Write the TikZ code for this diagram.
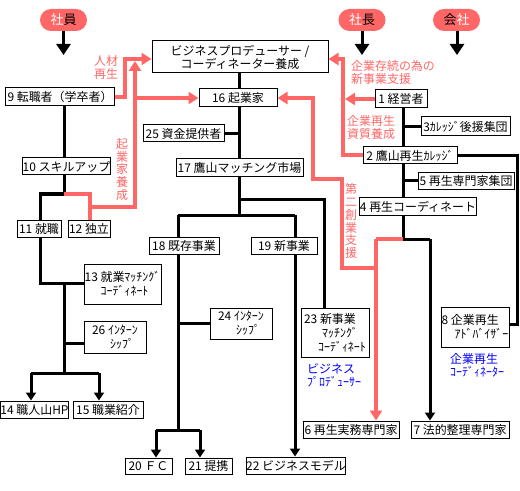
\documentclass[tikz,border=0pt]{standalone}
\usepackage{fontspec}
\setmainfont{Noto Sans CJK JP}
\usetikzlibrary{arrows.meta}
\definecolor{salmon}{RGB}{255,102,102}
\definecolor{bblue}{RGB}{0,0,255}
\pgfdeclarelayer{bg}
\pgfsetlayers{bg,main}
\tikzset{
  box/.style={draw, line width=1bp, fill=white, inner sep=0pt, font=\fontsize{12}{13}\selectfont, align=center},
  bl/.style={line width=3bp, black},
  rd/.style={line width=4bp, salmon},
  bah/.style={-{Triangle[length=8bp,width=10bp]}},
  rah/.style={-{Triangle[length=10bp,width=12bp]}},
  bigah/.style={-{Triangle[length=11bp,width=14bp]}},
  pill/.style={fill=salmon, rounded corners=11bp, minimum width=47bp, minimum height=22bp, inner sep=0pt, font=\fontsize{13}{13}\selectfont},
  lbl/.style={font=\fontsize{12}{13}\selectfont, inner sep=0pt},
}
\begin{document}
\begin{tikzpicture}[x=1bp,y=-1bp]
\useasboundingbox (0,0) rectangle (520,491);

% pills
\node[pill] (p1) at (63.5,20) {\textcolor{white}{社}員};
\node[pill] (p2) at (362,20) {\textcolor{white}{社}長};
\node[pill] (p3) at (456.5,20) {会\textcolor{white}{社}};
\coordinate (e1) at (63.5,55);
\coordinate (e2) at (362,55);
\coordinate (e3) at (457,55);
\draw[bl,bigah] (p1.south) -- (e1);
\draw[bl,bigah] (p2.south) -- (e2);
\draw[bl,bigah] (p3.south -| e3) -- (e3);

% boxes
\node[box, minimum width=176bp, minimum height=32bp] (biz) at (240,57) {ビジネスプロデューサー /\\コーディネーター養成};
\node[box, minimum width=108bp, minimum height=18bp] (n9) at (60,97) {9 転職者（学卒者）};
\node[box, minimum width=78bp, minimum height=18bp] (n16) at (238,98) {16 起業家};
\node[box, minimum width=81bp, minimum height=17bp] (n25) at (183.5,133.5) {25 資金提供者};
\node[box, minimum width=127bp, minimum height=18bp] (n17) at (239.5,168) {17 鷹山マッチング市場};
\node[box, minimum width=52bp, minimum height=18bp] (n1) at (401,99) {1 経営者};
\node[box, minimum width=89bp, minimum height=19bp] (n3) at (465.5,126.5) {3ｶﾚｯｼﾞ後援集団};
\node[box, minimum width=94bp, minimum height=17bp] (n2) at (410,155.5) {2 鷹山再生ｶﾚｯｼﾞ};
\node[box, minimum width=96bp, minimum height=17bp] (n5) at (466,181) {5 再生専門家集団};
\node[box, minimum width=110bp, minimum height=17bp] (n4) at (418,206.5) {4 再生コーディネート};
\node[box, minimum width=87bp, minimum height=17bp] (n10) at (66.5,166.5) {10 スキルアップ};
\node[box, minimum width=44bp, minimum height=17bp] (n11) at (39,228.5) {11 就職};
\node[box, minimum width=42bp, minimum height=17bp] (n12) at (89,228.5) {12 独立};
\node[box, minimum width=70bp, minimum height=17bp] (n18) at (184,245.5) {18 既存事業};
\node[box, minimum width=66bp, minimum height=17bp] (n19) at (284,245.5) {19 新事業};
\node[box, minimum width=77bp, minimum height=40bp, align=left, font=\fontsize{12}{14}\selectfont] (n13) at (122.5,284) {13 就業ﾏｯﾁﾝｸﾞ\\\hspace*{16bp}ｺｰﾃﾞｨﾈｰﾄ};
\node[box, minimum width=62bp, minimum height=31bp, align=left, font=\fontsize{12}{14}\selectfont] (n24) at (241,323.5) {24 ｲﾝﾀｰﾝ\\\hspace*{18bp}ｼｯﾌﾟ};
\node[box, minimum width=68bp, minimum height=49bp, align=left, font=\fontsize{12}{14}\selectfont] (n23) at (335,332.5) {23 新事業\\\hspace*{18bp}ﾏｯﾁﾝｸﾞ\\\hspace*{14bp}ｺｰﾃﾞｨﾈｰﾄ};
\node[box, minimum width=68bp, minimum height=40bp, align=left, font=\fontsize{12}{14}\selectfont] (n8) at (475,327) {8 企業再生\\\hspace*{13bp}ｱﾄﾞﾊﾞｲｻﾞｰ};
\node[box, minimum width=62bp, minimum height=32bp, align=left, font=\fontsize{12}{14}\selectfont] (n26) at (115,337) {26 ｲﾝﾀｰﾝ\\\hspace*{18bp}ｼｯﾌﾟ};
\node[box, minimum width=67bp, minimum height=17bp] (n14) at (34.5,409.5) {14 職人山HP};
\node[box, minimum width=70bp, minimum height=17bp] (n15) at (108,409.5) {15 職業紹介};
\node[box, minimum width=47bp, minimum height=16bp] (n20) at (148.5,466) {20 ＦＣ};
\node[box, minimum width=47bp, minimum height=16bp] (n21) at (208.5,466) {21 提携};
\node[box, minimum width=96bp, minimum height=17bp] (n22) at (296,465.5) {22 ビジネスモデル};
\node[box, minimum width=96bp, minimum height=17bp] (n6) at (351,429.5) {6 再生実務専門家};
\node[box, minimum width=98bp, minimum height=17bp] (n7) at (460,429.5) {7 法的整理専門家};

% labels
\node[lbl, text=salmon, align=center] (t1) at (106,67) {人材\\再生};
\node[lbl, text=salmon, align=center] (t2) at (122,169.5) {起\\業\\家\\養\\成};
\node[lbl, text=salmon, align=left, anchor=west] (t3) at (351,72.5) {企業存続の為の\\新事業支援};
\node[lbl, text=salmon, align=left, anchor=west] (t4) at (347,127.5) {企業再生\\資質養成};
\node[lbl, text=salmon, align=center] (t5) at (351,221) {第\\二\\創\\業\\支\\援};
\node[lbl, text=bblue, align=left, anchor=west] (t6) at (307,375) {ビジネス\\ﾌﾟﾛﾃﾞｭｰｻｰ};
\node[lbl, text=bblue, align=left, anchor=west] (t7) at (450,365.5) {企業再生\\ｺｰﾃﾞｨﾈｰﾀｰ};

% junction coordinates
\coordinate (jA) at (239.5,199);
\coordinate (jB) at (239.5,215);
\coordinate (jL) at (178,215);
\coordinate (jR) at (295,215);
\coordinate (jC) at (324,199);
\coordinate (jD) at (178,430);
\coordinate (jE) at (156,430);
\coordinate (jF) at (200,430);
\coordinate (kA) at (64,194);
\coordinate (kB) at (40,194);
\coordinate (kC) at (90,194);
\coordinate (kD) at (90,207);
\coordinate (kE) at (135,207);
\coordinate (kF) at (135,61);
\coordinate (kG) at (135,98);
\coordinate (kI) at (40,283);
\coordinate (kJ) at (64,283);
\coordinate (kK) at (64,373);
\coordinate (kL) at (31,373);
\coordinate (kM) at (99,373);
\coordinate (kN) at (64,343);
\coordinate (hA) at (125,97);
\coordinate (hB) at (125,59);
\coordinate (mB) at (403,239);
\coordinate (mC) at (430,239);
\coordinate (mD) at (376,239);
\coordinate (mE) at (376,268);
\coordinate (mF) at (342,268);
\coordinate (mG) at (342,179);
\coordinate (mH) at (313,179);
\coordinate (mI) at (313,98);
\coordinate (mJ) at (517,155.5);
\coordinate (mK) at (517,324);
\coordinate (mL) at (343,155.5);
\coordinate (mM) at (343,59);
\coordinate (mN) at (345,99);

\begin{pgfonlayer}{bg}
% black connectors
\draw[bl] (biz.south -| n17.north) -- (n17.north);
\draw[bl] (n25.east) -- (n25.east -| n17.north);
\draw[bl] (n17.south) -- (jB);
\draw[bl] (jA) -- (jC) -- (n23.north -| jC);
\draw[bl] (jL) -- (jR);
\draw[bl] (jL) -- (n18.north -| jL);
\draw[bl] (jR) -- (n19.north -| jR);
\draw[bl] (n18.south -| jD) -- (jD);
\draw[bl] (jE) -- (jF);
\draw[bl,bah] (jE) -- (n20.north -| jE);
\draw[bl,bah] (jF) -- (n21.north -| jF);
\draw[bl] (n24.west) -- (n24.west -| jD);
\draw[bl,bah] (n19.south -| jR) -- (n22.north -| jR);
\draw[bl] (n9.south -| kA) -- (n10.north -| kA);
\draw[bl] (n10.south -| kA) -- (kA);
\draw[bl] (kA) -- (kB) -- (n11.north -| kB);
\draw[bl] (n11.south -| kI) -- (kI) -- (n13.west |- kI);
\draw[bl] (kJ) -- (kK);
\draw[bl] (kN) -- (n26.west |- kN);
\draw[bl] (kL) -- (kM);
\draw[bl,bah] (kL) -- (n14.north -| kL);
\draw[bl,bah] (kM) -- (n15.north -| kM);
\draw[bl] (n1.south -| mB) -- (mB);
\draw[bl] (n3.west) -- (n3.west -| mB);
\draw[bl] (n5.west) -- (n5.west -| mB);
\draw[bl] (mB) -- (mC);
\draw[bl,bah] (mC) -- (n7.north -| mC);
\draw[bl] (n2.east) -- (mJ) -- (mK) -- (n8.east |- mK);
% red connectors
\draw[rd] (mB) -- (mD);
\draw[rd,rah] (mD) -- (n6.north -| mD);
\draw[rd,rah] (mE) -- (mF) -- (mG) -- (mH) -- (mI) -- (n16.east);
\draw[rd,rah] (n2.west) -- (mL) -- (mM) -- (biz.east |- mM);
\draw[rd,rah] (n1.west) -- (mN);
\draw[rd,rah] (n9.east) -- (hA) -- (hB) -- (biz.west |- hB);
\draw[rd] (kA) -- (kC) -- (n12.north -| kC);
\draw[rd,rah] (kD) -- (kE) -- (kF);
\draw[rd,rah] (kG) -- (n16.west);
\end{pgfonlayer}
\end{tikzpicture}
\end{document}
